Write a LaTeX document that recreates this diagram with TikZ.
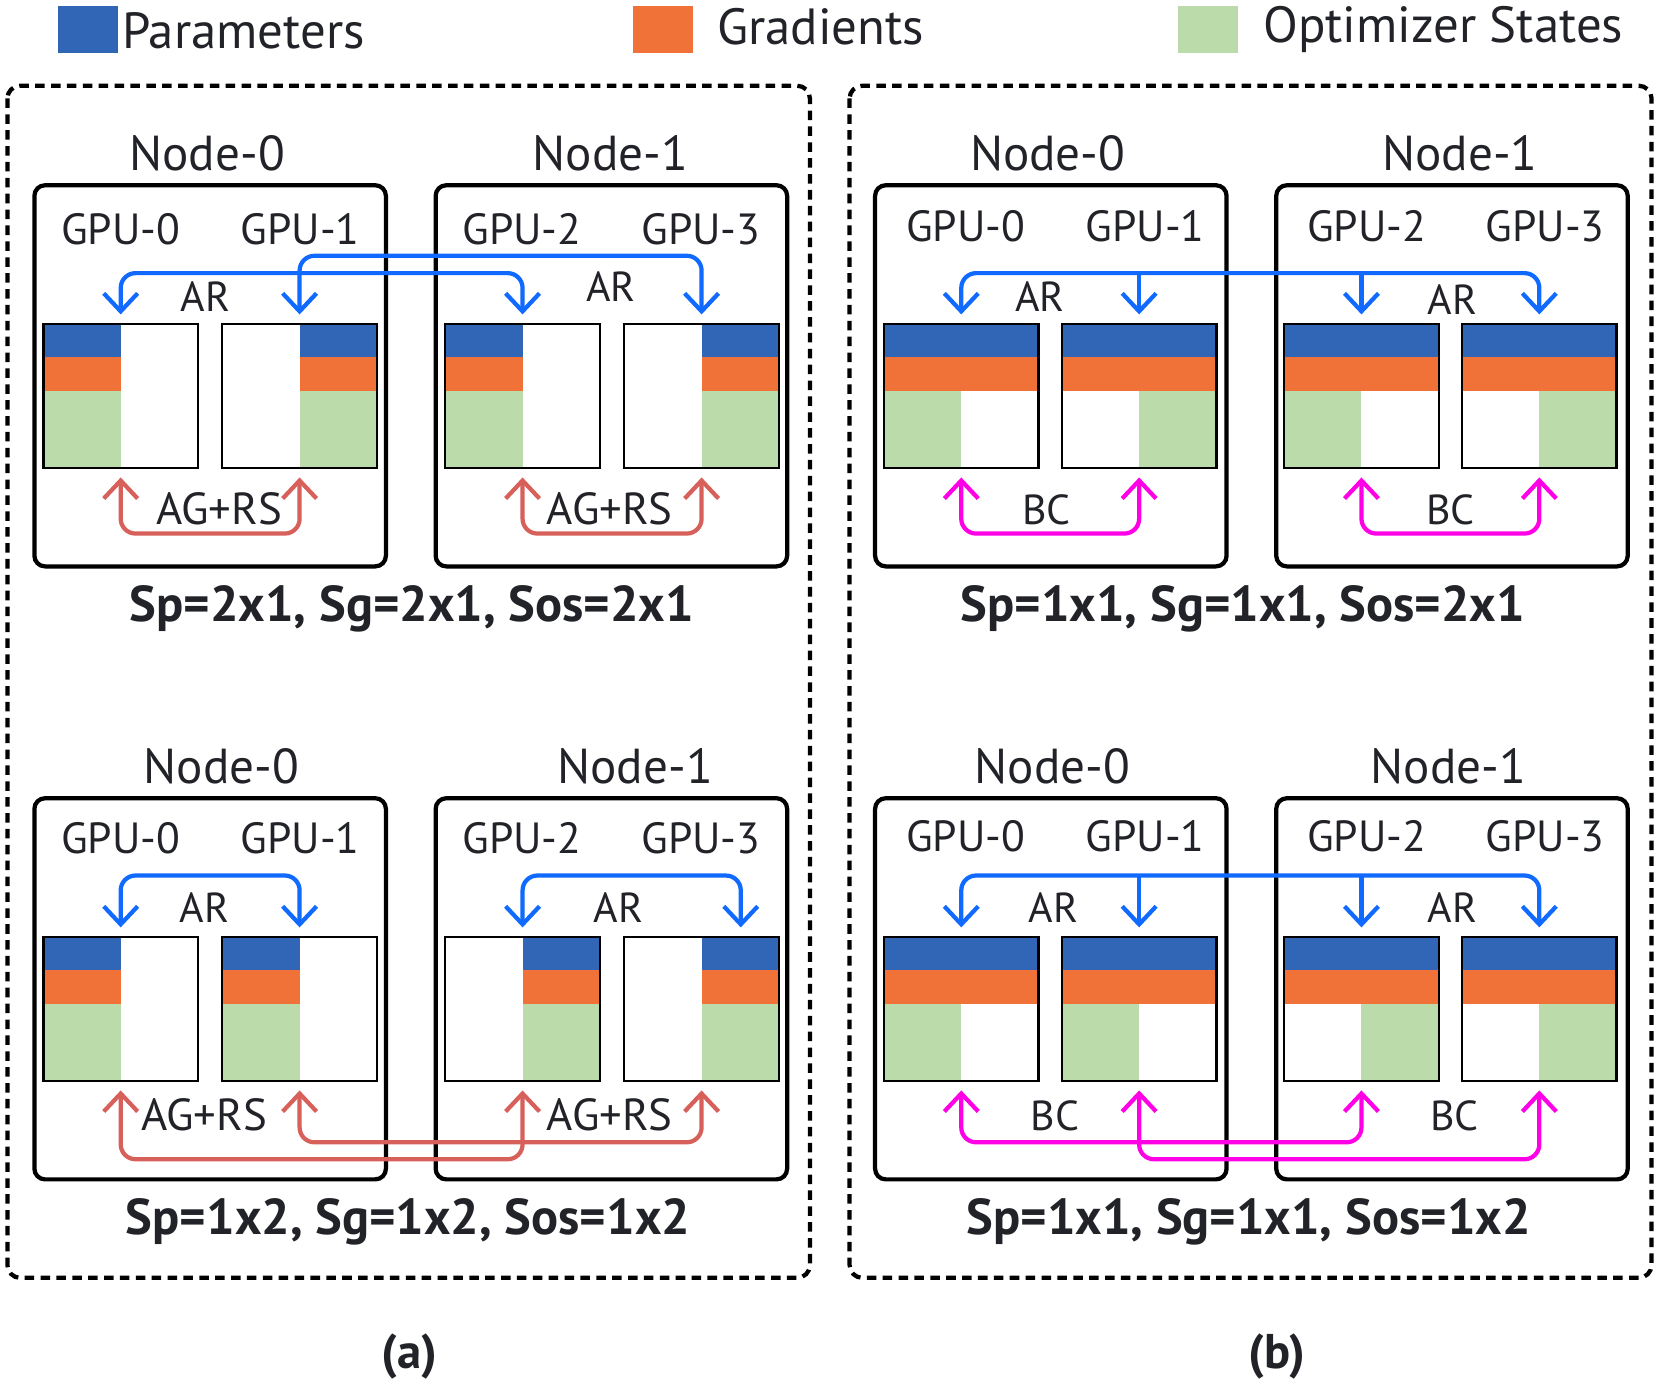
\documentclass[tikz,border=0pt]{standalone}
\usepackage{fontspec}
\setmainfont{PT Sans}
\usetikzlibrary{arrows.meta,calc}
\definecolor{cP}{RGB}{49,101,181}
\definecolor{cG}{RGB}{241,114,56}
\definecolor{cO}{RGB}{188,219,170}
\definecolor{cAR}{RGB}{16,106,255}
\definecolor{cAG}{RGB}{216,96,90}
\definecolor{cBC}{RGB}{255,0,230}
\definecolor{ink}{RGB}{33,35,40}
\newcommand\gpumem[7]{%
  \fill[cP] (#2+#4,#3) rectangle (#2+#5,#3+31);
  \fill[cG] (#2+#4,#3+31) rectangle (#2+#5,#3+63);
  \fill[cO] (#2+#6,#3+63) rectangle (#2+#7,#3+136);
  \node[membox] (#1) at (#2,#3) {};
}
\tikzset{
  >={Straight Barb[length=8.5pt,width=16pt]},
  membox/.style={draw=black, line width=1.1pt, anchor=north west, minimum width=73pt, minimum height=68pt, inner sep=0pt, outer sep=0pt},
  nodebox/.style={draw=black, line width=2pt, rounded corners=5pt, anchor=north west, minimum width=166pt, minimum height=180pt, inner sep=0pt, outer sep=0pt},
  frame/.style={draw=black, line width=2pt, dash pattern=on 4.5pt off 3pt, rounded corners=6pt},
  arAR/.style={draw=cAR, line width=2pt, rounded corners=7pt, <->},
  arARb/.style={draw=cAR, line width=2pt, ->},
  arAG/.style={draw=cAG, line width=2pt, rounded corners=7pt, <->},
  arBC/.style={draw=cBC, line width=2pt, rounded corners=7pt, <->},
  txt/.style={text=ink, inner sep=0pt, anchor=base},
  legtxt/.style={txt, anchor=base west, font=\fontsize{24}{28}\selectfont},
  nodelbl/.style={txt, font=\fontsize{23.2}{27}\selectfont},
  gpulbl/.style={txt, font=\fontsize{20.6}{24}\selectfont},
  oplbl/.style={txt, font=\fontsize{19.8}{23}\selectfont},
  aglbl/.style={txt, font=\fontsize{21.2}{24}\selectfont},
  splbl/.style={txt, font=\bfseries\fontsize{23.8}{27}\selectfont},
  caplbl/.style={txt, font=\bfseries\fontsize{23}{27}\selectfont},
}
\begin{document}
\begin{tikzpicture}[x=0.5pt,y=-0.5pt]
\useasboundingbox (0,0) rectangle (1568,1309);
% legend
\fill[cP] (55,6) rectangle (111,50);
\node[legtxt] (lp) at (115,45.6) {Parameters};
\fill[cG] (598,6) rectangle (655,50);
\node[legtxt] (lg) at (677,42) {Gradients};
\fill[cO] (1113,6) rectangle (1169,50);
\node[legtxt] (lo) at (1193,40) {Optimizer States};
% frames
\draw[frame] (7,81) rectangle (765,1207);
\draw[frame] (802.5,81) rectangle (1560,1207);

% ================= (a) top =================
\node[nodebox] (na0) at (32.5,175) {};
\node[nodebox] (na1) at (411.5,175) {};
\node[nodelbl] (tna0) at (195.7,161) {Node-0};
\node[nodelbl] (tna1) at (576.7,161) {Node-1};
\node[gpulbl] (ga0) at (114,231) {GPU-0};
\node[gpulbl] (ga1) at (283.5,231) {GPU-1};
\node[gpulbl] (ga2) at (493,231) {GPU-2};
\node[gpulbl] (ga3) at (662,231) {GPU-3};
\gpumem{A0}{41}{306}{0}{73}{0}{73}
\gpumem{A1}{210}{306}{73}{146}{73}{146}
\gpumem{A2}{420.6}{306}{0}{73}{0}{73}
\gpumem{A3}{589.7}{306}{73}{146}{73}{146}
\draw[arAR] ($(A1.north)+(0,-9)$) -- ++(0,-55.4) -| ($(A3.north)+(0,-9)$);
\draw[arAR] ($(A0.north)+(0,-9)$) -- ++(0,-39) -| ($(A2.north)+(0,-9)$);
\node[oplbl] (ara0) at (194,293.9) {AR};
\node[oplbl] (ara1) at (577,284.5) {AR};
\draw[arAG] ($(A0.south)+(0,9)$) -- ++(0,53) -| ($(A1.south)+(0,9)$);
\draw[arAG] ($(A2.south)+(0,9)$) -- ++(0,53) -| ($(A3.south)+(0,9)$);
\node[aglbl] (aga0) at (207,495.5) {AG+RS};
\node[aglbl] (aga1) at (576,495.5) {AG+RS};
\node[splbl] (spa1) at (389,587) {Sp=2x1, Sg=2x1, Sos=2x1};

% ================= (a) bottom =================
\node[nodebox] (nc0) at (32.5,754) {};
\node[nodebox] (nc1) at (411.5,754) {};
\node[nodelbl] (tnc0) at (209,739.7) {Node-0};
\node[nodelbl] (tnc1) at (600,739.7) {Node-1};
\node[gpulbl] (gc0) at (114,806.6) {GPU-0};
\node[gpulbl] (gc1) at (283.5,806.6) {GPU-1};
\node[gpulbl] (gc2) at (493,806.6) {GPU-2};
\node[gpulbl] (gc3) at (662,806.6) {GPU-3};
\gpumem{C0}{41}{885}{0}{73}{0}{73}
\gpumem{C1}{210}{885}{0}{73}{0}{73}
\gpumem{C2}{420.6}{885}{73}{146}{73}{146}
\gpumem{C3}{589.7}{885}{73}{146}{73}{146}
\draw[arAR] ($(C0.north)+(0,-9)$) -- ++(0,-49) -| ($(C1.north)+(0,-9)$);
\draw[arAR] ($(C2.north)+(0,-9)$) -- ++(0,-49) -| ($(C3.north)+(37,-9)$);
\node[oplbl] (arc0) at (193,871.8) {AR};
\node[oplbl] (arc1) at (584.4,871.8) {AR};
\draw[arAG] ($(C1.south)+(0,9)$) -- ++(0,49) -| ($(C3.south)+(0,9)$);
\draw[arAG] ($(C0.south)+(0,9)$) -- ++(0,65) -| ($(C2.south)+(0,9)$);
\node[aglbl] (agc0) at (192.7,1068.3) {AG+RS};
\node[aglbl] (agc1) at (576,1068.3) {AG+RS};
\node[splbl] (spc1) at (385.4,1166.2) {Sp=1x2, Sg=1x2, Sos=1x2};

% ================= (b) top =================
\node[nodebox] (nb0) at (826.6,175) {};
\node[nodebox] (nb1) at (1205.5,175) {};
\node[nodelbl] (tnb0) at (989.6,161) {Node-0};
\node[nodelbl] (tnb1) at (1379,161) {Node-1};
\node[gpulbl] (gb0) at (912,227.7) {GPU-0};
\node[gpulbl] (gb1) at (1081.7,227.7) {GPU-1};
\node[gpulbl] (gb2) at (1290.8,227.7) {GPU-2};
\node[gpulbl] (gb3) at (1459.5,227.7) {GPU-3};
\gpumem{B0}{835}{306}{0}{146}{0}{73}
\gpumem{B1}{1003}{306}{0}{146}{73}{146}
\gpumem{B2}{1213}{306}{0}{146}{0}{73}
\gpumem{B3}{1381}{306}{0}{146}{73}{146}
\draw[arAR] ($(B0.north)+(0,-9)$) -- ++(0,-39) -| ($(B3.north)+(0,-9)$);
\draw[arARb] ($(B1.north)+(0,-48)$) -- ($(B1.north)+(0,-9)$);
\draw[arARb] ($(B2.north)+(0,-48)$) -- ($(B2.north)+(0,-9)$);
\node[oplbl] (arb0) at (982.5,293.9) {AR};
\node[oplbl] (arb1) at (1372,297.3) {AR};
\draw[arBC] ($(B0.south)+(0,9)$) -- ++(0,53) -| ($(B1.south)+(0,9)$);
\draw[arBC] ($(B2.south)+(0,9)$) -- ++(0,53) -| ($(B3.south)+(0,9)$);
\node[oplbl] (bcb0) at (988.5,495.5) {BC};
\node[oplbl] (bcb1) at (1370,495.5) {BC};
\node[splbl] (spb1) at (1174,587) {Sp=1x1, Sg=1x1, Sos=2x1};

% ================= (b) bottom =================
\node[nodebox] (nd0) at (826.6,754) {};
\node[nodebox] (nd1) at (1205.5,754) {};
\node[nodelbl] (tnd0) at (994,739.7) {Node-0};
\node[nodelbl] (tnd1) at (1368,739.7) {Node-1};
\node[gpulbl] (gd0) at (912,803.9) {GPU-0};
\node[gpulbl] (gd1) at (1081.7,803.9) {GPU-1};
\node[gpulbl] (gd2) at (1290.8,803.9) {GPU-2};
\node[gpulbl] (gd3) at (1459.5,803.9) {GPU-3};
\gpumem{D0}{835}{885}{0}{146}{0}{73}
\gpumem{D1}{1003}{885}{0}{146}{0}{73}
\gpumem{D2}{1213}{885}{0}{146}{73}{146}
\gpumem{D3}{1381}{885}{0}{146}{73}{146}
\draw[arAR] ($(D0.north)+(0,-9)$) -- ++(0,-49) -| ($(D3.north)+(0,-9)$);
\draw[arARb] ($(D1.north)+(0,-58)$) -- ($(D1.north)+(0,-9)$);
\draw[arARb] ($(D2.north)+(0,-58)$) -- ($(D2.north)+(0,-9)$);
\node[oplbl] (ard0) at (995,871.8) {AR};
\node[oplbl] (ard1) at (1372,871.8) {AR};
\draw[arBC] ($(D0.south)+(0,9)$) -- ++(0,49) -| ($(D2.south)+(0,9)$);
\draw[arBC] ($(D1.south)+(0,9)$) -- ++(0,65) -| ($(D3.south)+(0,9)$);
\node[oplbl] (bcd0) at (996.7,1068.3) {BC};
\node[oplbl] (bcd1) at (1374,1068.3) {BC};
\node[splbl] (spd1) at (1179.4,1166.2) {Sp=1x1, Sg=1x1, Sos=1x2};

% captions
\node[caplbl] (capa) at (386.7,1293) {(a)};
\node[caplbl] (capb) at (1206,1293) {(b)};
\end{tikzpicture}
\end{document}
